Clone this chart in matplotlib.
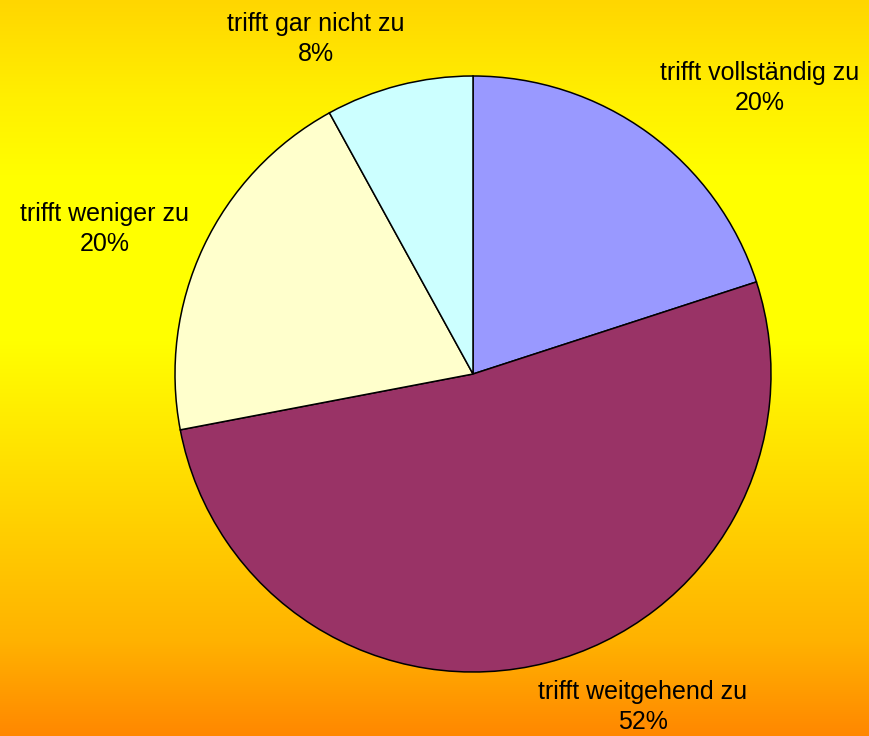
import numpy as np
import matplotlib
matplotlib.use("Agg")
import matplotlib.pyplot as plt

categories = ["trifft vollständig zu", "trifft weitgehend zu", "trifft weniger zu", "trifft gar nicht zu"]
values = [20, 52, 20, 8]
colors = ["#9999FF", "#993366", "#FFFFCC", "#CCFFFF"]

W, H = 869, 736
fig = plt.figure(figsize=(W / 100, H / 100), dpi=100)

# background gradient (top -> bottom)
stops_y = [0, 100, 180, 340, 400, 640, 736]
stops_g = [214, 240, 255, 255, 240, 178, 135]
ys = np.arange(H)
g = np.interp(ys, stops_y, stops_g) / 255.0
grad = np.zeros((H, 1, 3))
grad[:, 0, 0] = 1.0
grad[:, 0, 1] = g
grad[:, 0, 2] = 0.0
bg = fig.add_axes([0, 0, 1, 1])
bg.imshow(grad, aspect="auto", extent=[0, 1, 0, 1])
bg.axis("off")

# pie axes: center (473, 374 from top), radius 298 px
cx, cy, R = 473, 374, 298
ax = fig.add_axes([(cx - R) / W, (H - cy - R) / H, 2 * R / W, 2 * R / H])
ax.pie(values, colors=colors, startangle=90, counterclock=False,
       radius=1.0, wedgeprops=dict(edgecolor="black", linewidth=1.1))
ax.set_xlim(-1, 1)
ax.set_ylim(-1, 1)
ax.set_aspect("equal")
ax.axis("off")

# label block centers in pixels (layout)
label_pos = [(760, 88), (643, 707), (105, 229), (316, 39)]
for cat, v, (px, py) in zip(categories, values, label_pos):
    x = (px - cx) / R
    y = (cy - py) / R
    ax.text(x, y, f"{cat}\n{v}%", ha="center", va="center", fontsize=18,
            family="Liberation Sans", linespacing=1.33, clip_on=False)

fig.savefig("out.png", dpi=100)
